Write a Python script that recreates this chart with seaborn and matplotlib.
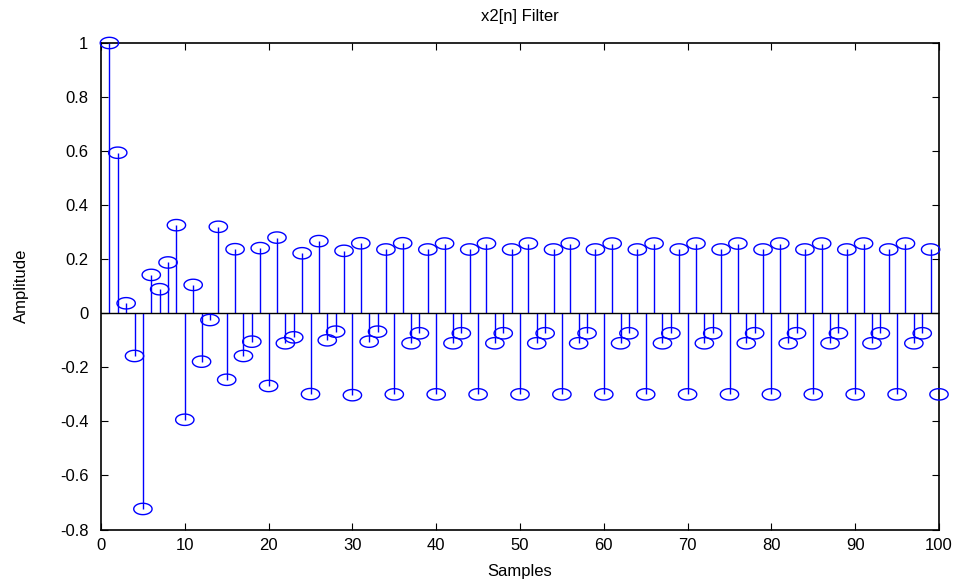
import numpy as np
import pandas as pd
import matplotlib
matplotlib.use("Agg")
import matplotlib.pyplot as plt
from matplotlib.path import Path
import seaborn as sns

samples = list(range(1, 101))
amplitude = [
    1.000, 0.594, 0.037, -0.158, -0.724, 0.142, 0.089, 0.188, 0.326, -0.394,
    0.105, -0.179, -0.025, 0.320, -0.246, 0.237, -0.158, -0.105, 0.241, -0.269,
    0.280, -0.111, -0.089, 0.222, -0.299, 0.267, -0.100, -0.068, 0.231, -0.303,
    0.259, -0.105, -0.068, 0.236, -0.300, 0.259, -0.111, -0.074, 0.236, -0.300,
    0.258, -0.111, -0.074, 0.236, -0.300, 0.258, -0.111, -0.074, 0.236, -0.300,
    0.258, -0.111, -0.074, 0.236, -0.300, 0.258, -0.111, -0.074, 0.236, -0.300,
    0.258, -0.111, -0.074, 0.236, -0.300, 0.258, -0.111, -0.074, 0.236, -0.300,
    0.258, -0.111, -0.074, 0.236, -0.300, 0.258, -0.111, -0.074, 0.236, -0.300,
    0.258, -0.111, -0.074, 0.236, -0.300, 0.258, -0.111, -0.074, 0.236, -0.300,
    0.258, -0.111, -0.074, 0.236, -0.300, 0.258, -0.111, -0.074, 0.236, -0.300,
]
x_ticks = [0, 10, 20, 30, 40, 50, 60, 70, 80, 90, 100]
y_ticks = [-0.8, -0.6, -0.4, -0.2, 0, 0.2, 0.4, 0.6, 0.8, 1]
y_tick_labels = ["-0.8", "-0.6", "-0.4", "-0.2", "0", "0.2", "0.4", "0.6", "0.8", "1"]
title = "x2[n] Filter"
x_label = "Samples"
y_label = "Amplitude"

df = pd.DataFrame({"n": samples, "amp": amplitude})

sns.set_style("white")
plt.rcParams["font.family"] = ["Liberation Sans", "DejaVu Sans"]
plt.rcParams["text.color"] = "black"
plt.rcParams["axes.labelcolor"] = "black"

fig = plt.figure(figsize=(9.59, 5.82), dpi=100)
ax = fig.add_axes([101 / 959, 1 - 529.5 / 582, (939 - 101) / 959, (529.5 - 43) / 582])

# stems
ax.vlines(df["n"], 0, df["amp"], colors="#0000ff", linewidth=1.0, zorder=2)
ax.axhline(0, color="black", linewidth=1.0, zorder=3)

# elliptical open markers
t = np.linspace(0, 2 * np.pi, 60)
ell = Path(np.column_stack([np.cos(t), 0.62 * np.sin(t)]), closed=True)
sns.scatterplot(data=df, x="n", y="amp", marker=ell, s=13.2 ** 2,
                facecolor="none", edgecolor="#0000ff", linewidth=1.0,
                ax=ax, zorder=4, clip_on=False, legend=False)

ax.set_xlim(0, 100)
ax.set_ylim(-0.8, 1)
ax.set_xticks(x_ticks)
ax.set_xticklabels([str(v) for v in x_ticks])
ax.set_yticks(y_ticks)
ax.set_yticklabels(y_tick_labels)

ax.tick_params(direction="in", length=5, width=0.8, colors="black",
               top=True, right=True, bottom=True, left=True, labelsize=12)
ax.tick_params(axis="x", pad=6)
ax.tick_params(axis="y", pad=9)
for s in ax.spines.values():
    s.set_visible(True)
    s.set_color("black")
    s.set_linewidth(1.2)

ax.set_title(title, fontsize=12, pad=16, color="black")
ax.set_xlabel(x_label, fontsize=12, labelpad=8)
ax.set_ylabel(y_label, fontsize=12, labelpad=22)

fig.savefig("out.png", dpi=100)
